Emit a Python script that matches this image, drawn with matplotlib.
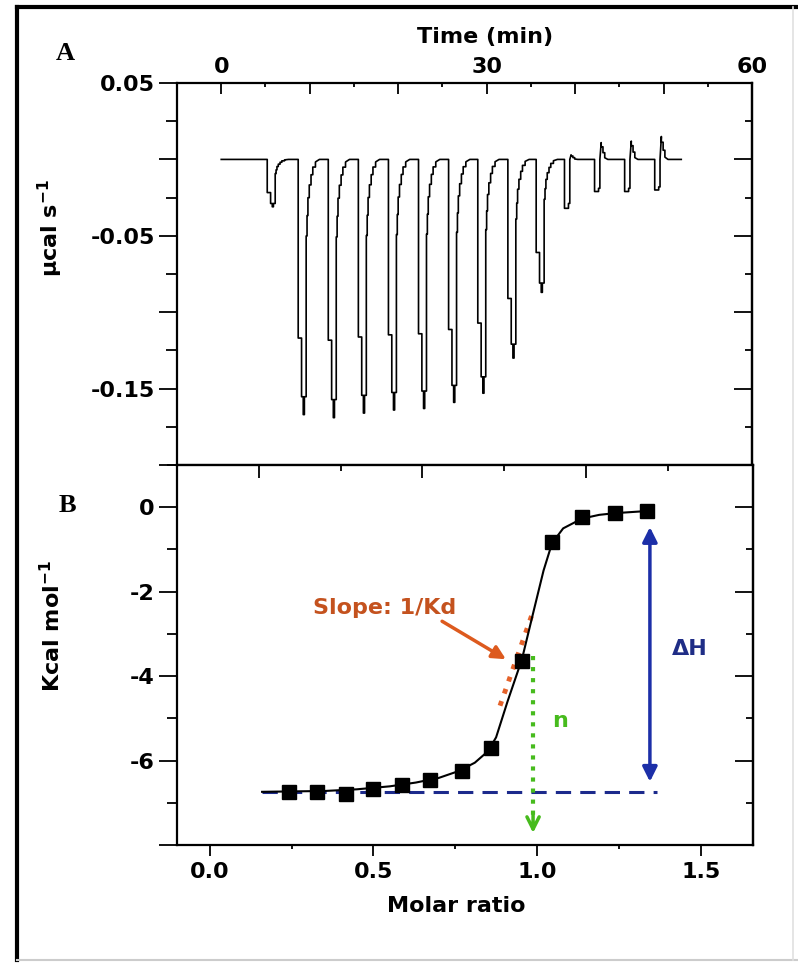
import matplotlib
matplotlib.use("Agg")
import matplotlib.pyplot as plt
from matplotlib.ticker import MultipleLocator, FixedLocator, FuncFormatter
from matplotlib.lines import Line2D

plt.rcParams['font.family'] = 'DejaVu Sans'
plt.rcParams['font.weight'] = 'bold'
plt.rcParams['mathtext.fontset'] = 'dejavusans'
plt.rcParams['mathtext.default'] = 'bf'

# ---- panel A: raw injection heats ----
inj_time = [5.2, 8.7, 12.1, 15.5, 18.9, 22.3, 25.7, 29.0, 32.4, 35.6, 38.8, 42.2, 45.6, 49.0]
inj_depth = [-0.031, -0.167, -0.169, -0.166, -0.164, -0.163, -0.159, -0.153,
             -0.130, -0.087, -0.032, -0.021, -0.021, -0.020]
overshoot = [0, 0, 0, 0, 0, 0, 0, 0, 0, 0, 0.003, 0.011, 0.012, 0.015]
run_end = 52.0

# peak outline of one injection (minutes after injection, fraction of depth)
dip_t = [0, 0, 0.38, 0.38, 0.57, 0.57, 0.70, 0.70, 0.90, 0.90, 1.0, 1.0, 1.1, 1.1,
         1.25, 1.25, 1.45, 1.45, 1.65, 1.65, 1.95, 1.95, 2.4]
dip_f = [0, 0.70, 0.70, 0.93, 0.93, 1.0, 1.0, 0.93, 0.93, 0.30, 0.30, 0.22, 0.22, 0.15,
         0.15, 0.10, 0.10, 0.06, 0.06, 0.03, 0.03, 0.01, 0]
# small late injections: short dip then exothermic spike
small_t = [0, 0, 0.45, 0.45, 0.6, 0.6, 0.75, 0.75, 0.95, 0.95, 1.15, 1.15, 1.5]
small_dip = [0, 1.0, 1.0, 0.9, 0.9, 0, 0, 0, 0, 0, 0, 0, 0]
small_bump = [0, 0, 0, 0, 0, 0, 1.0, 0.75, 0.75, 0.4, 0.4, 0.1, 0]

# ---- panel B: integrated heats ----
molar_ratio = [0.241, 0.329, 0.415, 0.500, 0.588, 0.674, 0.770, 0.860,
               0.954, 1.046, 1.137, 1.238, 1.335]
heat = [-6.75, -6.75, -6.80, -6.68, -6.59, -6.47, -6.24, -5.70,
        -3.65, -0.82, -0.24, -0.14, -0.09]
fit_x = [0.16, 0.25, 0.35, 0.45, 0.55, 0.63, 0.70, 0.76, 0.81, 0.85, 0.875,
         0.91, 0.954, 0.99, 1.02, 1.046, 1.08, 1.137, 1.19, 1.238, 1.335]
fit_y = [-6.74, -6.73, -6.72, -6.68, -6.61, -6.52, -6.41, -6.25, -6.05, -5.78, -5.45,
         -4.6, -3.6, -2.45, -1.5, -0.85, -0.5, -0.27, -0.18, -0.14, -0.09]
baseline_heat = -6.74
baseline_x = [0.16, 1.366]
slope_x = [0.887, 0.988]
slope_y = [-4.7, -2.47]
n_value = 0.988
dH_x = 1.345
dH_top, dH_bottom = -0.47, -6.5

fig = plt.figure(figsize=(7.98, 9.63), dpi=100)
axA = fig.add_axes([0.2218, 0.5171, 0.7206, 0.3967])
axB = fig.add_axes([0.2218, 0.1225, 0.7218, 0.3946])

# build thermogram
tt = [0.0]
yy = [0.0]
for t0, d, ov in zip(inj_time, inj_depth, overshoot):
    if ov > 0:
        for dt, fd, fb in zip(small_t, small_dip, small_bump):
            tt.append(t0 + dt)
            yy.append(d * fd + ov * fb)
    else:
        for dt, f in zip(dip_t, dip_f):
            tt.append(t0 + dt)
            yy.append(d * f)
tt.append(run_end)
yy.append(0.0)
axA.plot(tt, yy, color='black', lw=1.2)

axA.set_xlim(-5, 60)
axA.set_ylim(-0.2, 0.05)
axA.xaxis.tick_top()
axA.xaxis.set_label_position('top')
axA.xaxis.set_major_locator(MultipleLocator(10))
axA.xaxis.set_minor_locator(MultipleLocator(5))
axA.xaxis.set_major_formatter(FuncFormatter(lambda v, p: '%d' % v if abs(v % 30) < 1e-6 else ''))
axA.set_xlabel('Time (min)', fontsize=16, fontweight='bold')
axA.xaxis.set_label_coords(0.536, 1.105)
axA.yaxis.set_major_locator(MultipleLocator(0.05))
axA.yaxis.set_minor_locator(MultipleLocator(0.025))
axA.yaxis.set_major_formatter(FuncFormatter(
    lambda v, p: ('%.2f' % v) if round(v * 100) in (5, -5, -15) else ''))
axA.set_ylabel('µcal s$^{-1}$', fontsize=16, fontweight='bold')
axA.yaxis.set_label_coords(-0.195, 0.62)
axA.tick_params(axis='x', which='major', direction='in', length=8, width=1.3,
                labelsize=16, pad=4)
axA.tick_params(axis='x', which='minor', direction='in', length=3, width=1.3)
axA.tick_params(axis='y', which='major', direction='out', length=13, width=1.3,
                labelsize=16, pad=3)
axA.tick_params(axis='y', which='minor', direction='out', length=8, width=1.3)
secA = axA.secondary_yaxis('right')
secA.yaxis.set_major_locator(MultipleLocator(0.05))
secA.yaxis.set_minor_locator(MultipleLocator(0.025))
secA.tick_params(which='major', direction='in', length=13, width=1.3, labelright=False)
secA.tick_params(which='minor', direction='in', length=5, width=1.3)
secA.spines['right'].set_linewidth(1.6)

# panel B
axB.plot(baseline_x, [baseline_heat, baseline_heat], color='#1c2a8c', lw=2.2,
         dashes=(5, 3))
axB.plot(slope_x, slope_y, color='#e5622a', lw=3.5, ls=':')
axB.plot(fit_x, fit_y, color='black', lw=1.5)
axB.plot(molar_ratio, heat, ls='none', marker='s', ms=9.5, color='black')
axB.plot([n_value, n_value], [-3.53, -7.6], color='#47bb1d', lw=3, ls=':')
axB.annotate('', xy=(n_value, -7.78), xytext=(n_value, -7.2),
             arrowprops=dict(arrowstyle='->', color='#47bb1d', lw=2.5,
                             mutation_scale=22))
axB.annotate('', xy=(dH_x, dH_top), xytext=(dH_x, dH_bottom),
             arrowprops=dict(arrowstyle='<|-|>', color='#1c2fa8', lw=2.5,
                             mutation_scale=22, shrinkA=0, shrinkB=0))
axB.annotate('', xy=(0.905, -3.6), xytext=(0.71, -2.7),
             arrowprops=dict(arrowstyle='-|>', color='#dd5a1e', lw=2.5,
                             mutation_scale=20, shrinkA=0, shrinkB=0))
axB.text(0.317, -2.38, 'Slope: 1/Kd', color='#c4521e', fontsize=16,
         fontweight='bold', ha='left', va='center')
axB.text(1.07, -5.06, 'n', color='#47bb1d', fontsize=16, fontweight='bold',
         ha='center', va='center')
axB.text(1.466, -3.36, 'ΔH', color='#1f2d86', fontsize=16, fontweight='bold',
         ha='center', va='center')

axB.set_xlim(-0.1, 1.66)
axB.set_ylim(-8, 1)
axB.xaxis.set_major_locator(MultipleLocator(0.5))
axB.xaxis.set_minor_locator(MultipleLocator(0.25))
axB.xaxis.set_major_formatter(FuncFormatter(lambda v, p: '%.1f' % v))
axB.yaxis.set_major_locator(MultipleLocator(2))
axB.yaxis.set_minor_locator(MultipleLocator(1))
axB.yaxis.set_major_formatter(FuncFormatter(lambda v, p: '%d' % v if v > -7 else ''))
axB.set_xlabel('Molar ratio', fontsize=16, fontweight='bold')
axB.xaxis.set_label_coords(0.484, -0.133)
axB.set_ylabel('Kcal mol$^{-1}$', fontsize=16, fontweight='bold')
axB.yaxis.set_label_coords(-0.195, 0.576)
axB.tick_params(axis='x', which='major', direction='out', length=8, width=1.3,
                labelsize=16, pad=4)
axB.tick_params(axis='x', which='minor', direction='out', length=3, width=1.3)
axB.tick_params(axis='y', which='major', direction='out', length=13, width=1.3,
                labelsize=16, pad=3)
axB.tick_params(axis='y', which='minor', direction='out', length=7, width=1.3)
secB = axB.secondary_yaxis('right')
secB.yaxis.set_major_locator(MultipleLocator(2))
secB.yaxis.set_minor_locator(MultipleLocator(1))
secB.tick_params(which='major', direction='in', length=13, width=1.3, labelright=False)
secB.tick_params(which='minor', direction='in', length=5, width=1.3)
secB.spines['right'].set_linewidth(1.6)
topB = axB.secondary_xaxis('top')
topB.xaxis.set_major_locator(FixedLocator([0.15, 0.65, 1.15]))
topB.xaxis.set_minor_locator(FixedLocator([0.40, 0.90, 1.40]))
topB.tick_params(which='major', direction='in', length=9, width=1.3, labeltop=False)
topB.tick_params(which='minor', direction='in', length=4, width=1.3)

for ax in (axA, axB):
    for s in ax.spines.values():
        s.set_linewidth(1.6)

fig.text(65 / 798, 1 - 53 / 963, 'A', family='Liberation Serif', fontweight='bold',
         fontsize=19, ha='center', va='center')
fig.text(67 / 798, 1 - 505 / 963, 'B', family='Liberation Serif', fontweight='bold',
         fontsize=19, ha='center', va='center')

# outer frame
fig.add_artist(Line2D([17 / 798, 17 / 798], [0.003, 1 - 7 / 963], color='black', lw=3))
fig.add_artist(Line2D([17 / 798, 1.0], [1 - 7 / 963, 1 - 7 / 963], color='black', lw=3))
fig.add_artist(Line2D([17 / 798, 1.0], [0.003, 0.003], color='#cccccc', lw=1.5))
fig.add_artist(Line2D([0.994, 0.994], [0.003, 1 - 7 / 963], color='#e0e0e0', lw=1.2))

fig.savefig('out.png', dpi=100)
